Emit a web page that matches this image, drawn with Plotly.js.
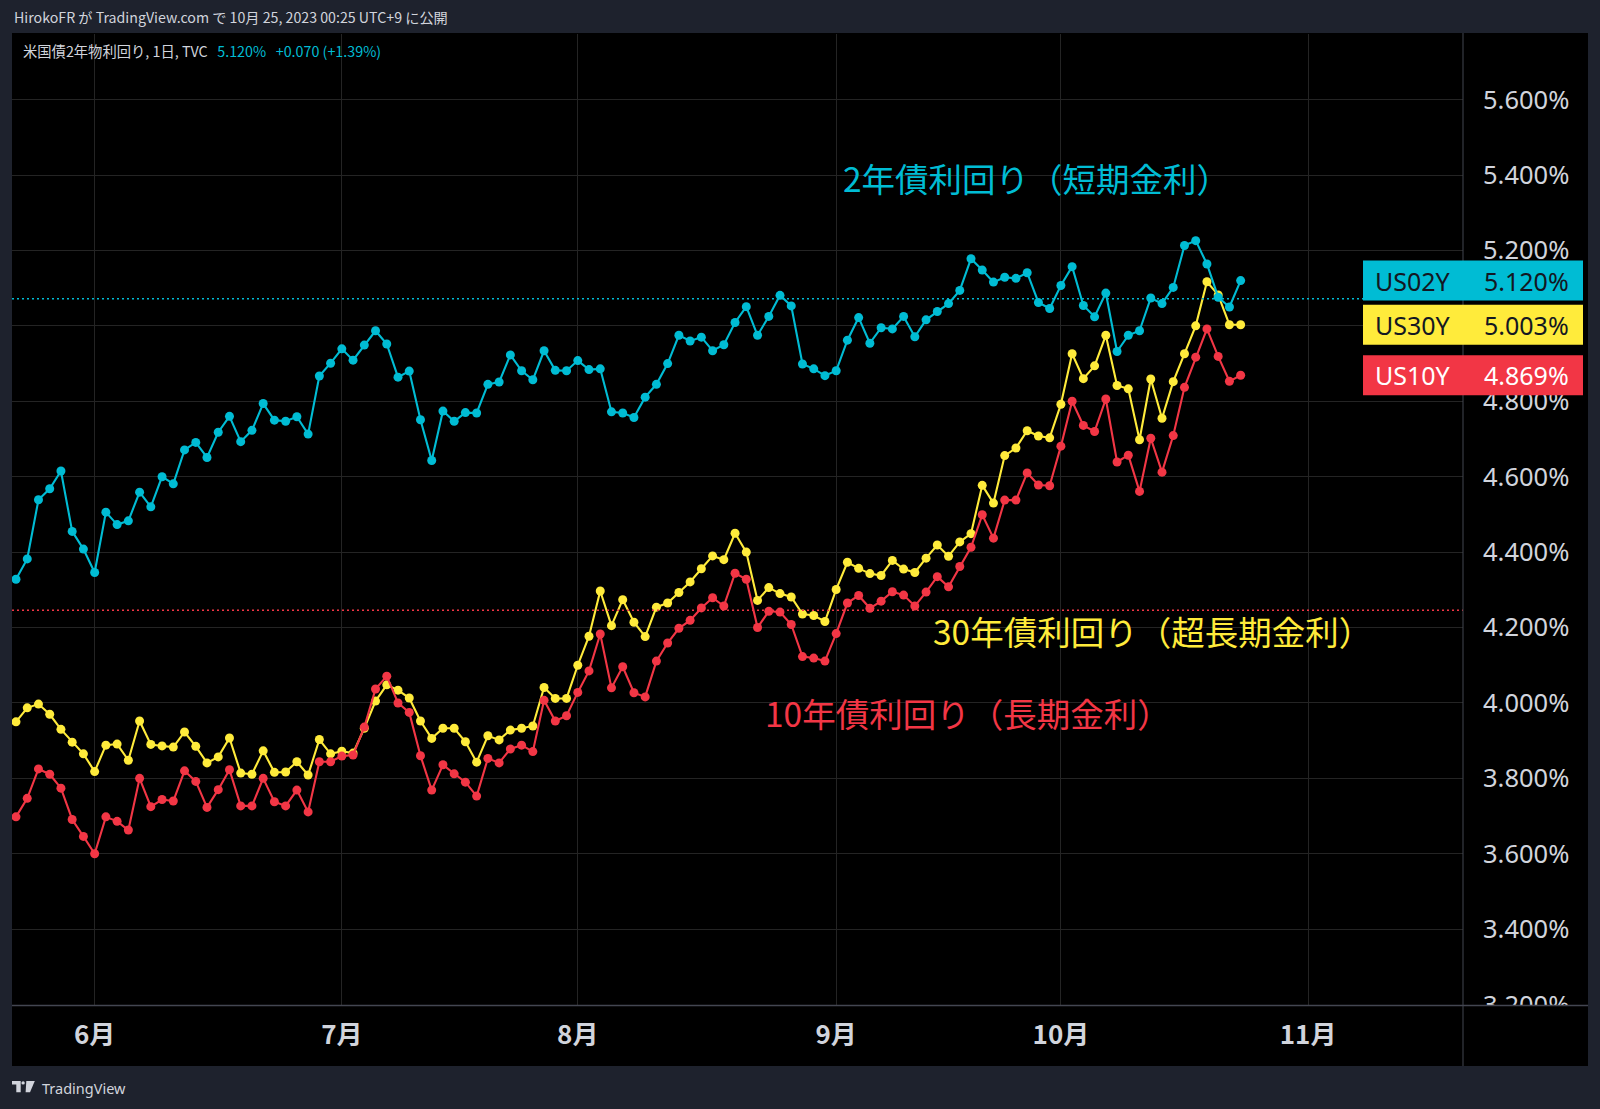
<!DOCTYPE html>
<html>
<head>
<meta charset="utf-8">
<script src="https://cdn.plot.ly/plotly-3.0.1.min.js"></script>
<style>
html,body{margin:0;padding:0;background:#1e222d;}
#chart{width:1600px;height:1109px;}
</style>
</head>
<body>
<div id="chart"></div>
<script>
// ---------------- data ----------------
const monthBars   = [7, 29, 50, 73, 93, 115];
const monthLabels = ['6月', '7月', '8月', '9月', '10月', '11月'];

const us02y = [
  4.328, 4.382, 4.539, 4.568, 4.615, 4.455, 4.408, 4.346, 4.506, 4.473, 4.483, 4.559, 4.520, 4.600, 4.581, 4.671,
  4.691, 4.651, 4.718, 4.760, 4.693, 4.723, 4.794, 4.750, 4.747, 4.759, 4.713, 4.867, 4.901, 4.939, 4.909, 4.949, 4.987,
  4.952, 4.864, 4.880, 4.751, 4.643, 4.774, 4.747, 4.770, 4.769, 4.845, 4.851, 4.923, 4.881, 4.857, 4.934, 4.882,
  4.881, 4.908, 4.884, 4.886, 4.772, 4.769, 4.757, 4.811, 4.845, 4.900, 4.975, 4.960, 4.970, 4.934, 4.950, 5.009,
  5.051, 4.975, 5.025, 5.081, 5.053, 4.899, 4.886, 4.868, 4.881, 4.962, 5.022, 4.954, 4.995, 4.992, 5.025, 4.971,
  5.016, 5.038, 5.059, 5.094, 5.178, 5.148, 5.116, 5.129, 5.126, 5.141, 5.062, 5.046, 5.107, 5.157, 5.054, 5.024,
  5.087, 4.932, 4.975, 4.987, 5.074, 5.059, 5.102, 5.213, 5.226, 5.164, 5.076, 5.050, 5.120
];
const us30y = [
  3.950, 3.987, 3.997, 3.970, 3.930, 3.896, 3.865, 3.818, 3.888, 3.891, 3.848, 3.952, 3.890, 3.886, 3.883, 3.923,
  3.885, 3.841, 3.857, 3.907, 3.814, 3.811, 3.873, 3.816, 3.817, 3.844, 3.809, 3.903, 3.865, 3.872, 3.867, 3.933, 4.005,
  4.048, 4.034, 4.013, 3.952, 3.906, 3.933, 3.933, 3.897, 3.843, 3.913, 3.902, 3.928, 3.933, 3.939, 4.041, 4.012,
  4.012, 4.100, 4.177, 4.297, 4.205, 4.274, 4.214, 4.176, 4.254, 4.265, 4.293, 4.321, 4.356, 4.390, 4.380, 4.450,
  4.400, 4.272, 4.306, 4.290, 4.281, 4.236, 4.232, 4.216, 4.301, 4.373, 4.357, 4.343, 4.338, 4.378, 4.355, 4.346,
  4.384, 4.419, 4.389, 4.427, 4.449, 4.577, 4.530, 4.656, 4.676, 4.722, 4.708, 4.703, 4.792, 4.926, 4.860, 4.894,
  4.975, 4.842, 4.833, 4.698, 4.859, 4.755, 4.852, 4.926, 5.000, 5.117, 5.082, 5.003, 5.003
];
const us10y = [
  3.698, 3.747, 3.825, 3.811, 3.774, 3.691, 3.646, 3.600, 3.698, 3.686, 3.663, 3.800, 3.725, 3.744, 3.740, 3.820,
  3.792, 3.723, 3.770, 3.823, 3.727, 3.727, 3.800, 3.738, 3.727, 3.769, 3.711, 3.844, 3.844, 3.859, 3.862, 3.936, 4.037,
  4.071, 4.000, 3.975, 3.860, 3.769, 3.836, 3.812, 3.790, 3.753, 3.853, 3.841, 3.878, 3.888, 3.871, 4.007, 3.952,
  3.966, 4.028, 4.085, 4.183, 4.040, 4.096, 4.027, 4.016, 4.111, 4.159, 4.198, 4.219, 4.252, 4.279, 4.257, 4.344,
  4.328, 4.200, 4.243, 4.241, 4.208, 4.123, 4.119, 4.111, 4.184, 4.265, 4.285, 4.251, 4.270, 4.295, 4.286, 4.257,
  4.294, 4.335, 4.308, 4.362, 4.413, 4.499, 4.437, 4.538, 4.538, 4.610, 4.578, 4.576, 4.681, 4.800, 4.736, 4.720,
  4.806, 4.639, 4.657, 4.561, 4.702, 4.612, 4.709, 4.837, 4.917, 4.992, 4.919, 4.853, 4.869
];

const seriesNames  = ['US02Y', 'US30Y', 'US10Y'];
const seriesLabels = ['2年債利回り（短期金利）', '30年債利回り（超長期金利）', '10年債利回り（長期金利）'];
const refLevels    = [5.072, 4.246];   // dotted horizontal lines (cyan, red)
const headerText   = 'HirokoFR が TradingView.com で 10月 25, 2023 00:25 UTC+9 に公開';
const legendTitle  = '米国債2年物利回り, 1日, TVC';
const legendChange = '+0.070 (+1.39%)';
const footerText   = 'TradingView';

// ---------------- styling / geometry ----------------
const COL = {cyan: '#00bcd4', yellow: '#ffeb3b', red: '#f23645', text: '#d1d4dc',
             grid: '#242424', sep: '#434651', page: '#1e222d'};
const PL = 12, PR = 1463, PT = 34, PB = 1005;
const px = X => (X - PL) / (PR - PL);
const py = Y => (PB - Y) / (PB - PT);
const CJK = '"Noto Sans CJK JP", "Noto Sans", sans-serif';
const NUM = '"Noto Sans", "DejaVu Sans", sans-serif';

const bars = us02y.map((_, i) => i);
const last = a => a[a.length - 1];

function series(y, color) {
  return {x: bars, y: y, type: 'scatter', mode: 'lines+markers',
          line: {color: color, width: 2.1}, marker: {color: color, size: 9},
          hoverinfo: 'skip', showlegend: false};
}
const traces = [series(us30y, COL.yellow), series(us10y, COL.red), series(us02y, COL.cyan)];

// ---------------- shapes ----------------
const shapes = [];
// black chart panel (behind everything)
shapes.push({type: 'rect', layer: 'below', xref: 'paper', yref: 'paper',
  x0: px(12), x1: px(1588), y0: py(1066), y1: py(33), fillcolor: '#000000', line: {width: 0}});
// dotted reference lines
shapes.push({type: 'line', xref: 'paper', yref: 'y', x0: 0, x1: 1, y0: refLevels[0], y1: refLevels[0],
  line: {color: COL.cyan, width: 1.5, dash: '2px,3px'}, layer: 'above'});
shapes.push({type: 'line', xref: 'paper', yref: 'y', x0: 0, x1: 1, y0: refLevels[1], y1: refLevels[1],
  line: {color: COL.red, width: 1.5, dash: '2px,3px'}, layer: 'above'});
// corner cover to clip the bottom price label, like the reference
shapes.push({type: 'rect', layer: 'above', xref: 'paper', yref: 'paper',
  x0: px(1464), x1: px(1588), y0: py(1066), y1: py(1006), fillcolor: '#000000', line: {width: 0}});
// separators
shapes.push({type: 'line', layer: 'above', xref: 'paper', yref: 'paper',
  x0: px(1463), x1: px(1463), y0: py(33), y1: py(1066), line: {color: COL.sep, width: 1}});
shapes.push({type: 'line', layer: 'above', xref: 'paper', yref: 'paper',
  x0: px(12), x1: px(1588), y0: py(1005.5), y1: py(1005.5), line: {color: COL.sep, width: 1.5}});
// price label boxes
const lastVals = [last(us02y), last(us30y), last(us10y)];
const boxCols = [COL.cyan, COL.yellow, COL.red];
const boxText = ['#131722', '#131722', '#ffffff'];
lastVals.forEach((v, k) => {
  shapes.push({type: 'rect', layer: 'above', xref: 'paper', yref: 'y', ysizemode: 'pixel',
    yanchor: v, y0: -20, y1: 20, x0: px(1363), x1: px(1583),
    fillcolor: boxCols[k], line: {width: 0}});
});
// TradingView logo
const logo = (pts) => 'M ' + pts.map(p => px(p[0]) + ',' + py(p[1])).join(' L ') + ' Z';
shapes.push({type: 'path', xref: 'paper', yref: 'paper', layer: 'above', line: {width: 0}, fillcolor: COL.text,
  path: logo([[12, 1081], [20.7, 1081], [20.7, 1092.3], [16.3, 1092.3], [16.3, 1084.5], [12, 1084.5]])});
shapes.push({type: 'circle', xref: 'paper', yref: 'paper', layer: 'above', line: {width: 0}, fillcolor: COL.text,
  x0: px(21.4), x1: px(24.8), y0: py(1084.6), y1: py(1081.2)});
shapes.push({type: 'path', xref: 'paper', yref: 'paper', layer: 'above', line: {width: 0}, fillcolor: COL.text,
  path: logo([[26.3, 1081], [34.8, 1081], [30, 1092.3], [25.6, 1092.3]])});

// ---------------- annotations ----------------
const ann = [];
ann.push({xref: 'paper', yref: 'paper', x: px(12), y: py(17), xanchor: 'left', yanchor: 'middle',
  text: headerText, showarrow: false, font: {family: CJK, size: 14.2, color: COL.text}});
ann.push({xref: 'paper', yref: 'paper', x: px(21), y: py(51), xanchor: 'left', yanchor: 'middle',
  text: legendTitle + '&nbsp;&nbsp;&nbsp;<span style="color:' + COL.cyan + '">' + last(us02y).toFixed(3) + '%&nbsp;&nbsp;&nbsp;' + legendChange + '</span>',
  showarrow: false, font: {family: CJK, size: 14.3, color: COL.text}});
// in-chart series labels
const labelPos = [[841, 177], [931, 630], [763, 712]];
const labelCols = [COL.cyan, COL.yellow, COL.red];
seriesLabels.forEach((t, k) => {
  ann.push({xref: 'paper', yref: 'paper', x: px(labelPos[k][0]), y: py(labelPos[k][1]),
    xanchor: 'left', yanchor: 'middle', text: t, showarrow: false,
    font: {family: CJK, size: 33.5, color: labelCols[k]}});
});
// price label texts
lastVals.forEach((v, k) => {
  ann.push({xref: 'paper', yref: 'y', x: px(1373), y: v, xanchor: 'left', yanchor: 'middle',
    text: seriesNames[k], showarrow: false, font: {family: NUM, size: 25, color: boxText[k]}});
  ann.push({xref: 'paper', yref: 'y', x: px(1571), y: v, xanchor: 'right', yanchor: 'middle',
    text: v.toFixed(3) + '%', showarrow: false, font: {family: NUM, size: 25, color: boxText[k]}});
});
// footer
ann.push({xref: 'paper', yref: 'paper', x: px(40), y: py(1088), xanchor: 'left', yanchor: 'middle',
  text: footerText, showarrow: false, font: {family: NUM, size: 14.5, color: COL.text}});

// ---------------- layout ----------------
const layout = {
  width: 1600, height: 1109,
  margin: {l: PL, r: 1600 - PR, t: PT, b: 1109 - PB, pad: 0},
  paper_bgcolor: COL.page, plot_bgcolor: '#000000',
  showlegend: false,
  xaxis: {range: [-0.356, 128.79], tickmode: 'array', tickvals: monthBars, ticktext: monthLabels,
    showgrid: true, gridcolor: COL.grid, gridwidth: 1, zeroline: false, showline: false,
    ticks: '', ticklabelstandoff: 12, automargin: false, fixedrange: true,
    tickfont: {family: CJK, size: 26, color: COL.text, weight: 700}},
  yaxis: {range: [3.199, 5.774], side: 'right', dtick: 0.2, tick0: 0, tickformat: '.3f', ticksuffix: '%',
    showgrid: true, gridcolor: COL.grid, gridwidth: 1, zeroline: false, showline: false,
    ticks: '', ticklabelstandoff: 19, automargin: false, fixedrange: true,
    tickfont: {family: NUM, size: 25.5, color: COL.text}},
  shapes: shapes,
  annotations: ann
};

Plotly.newPlot('chart', traces, layout, {displayModeBar: false, staticPlot: true});
</script>
</body>
</html>
